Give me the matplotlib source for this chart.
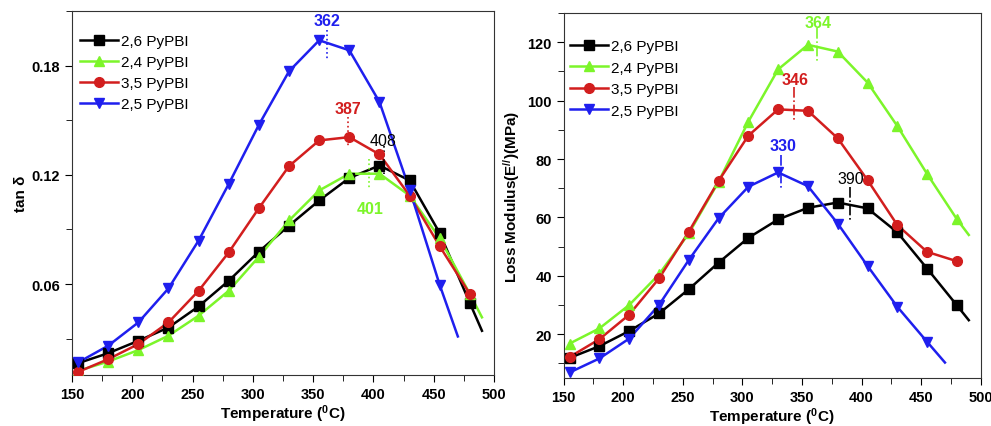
import numpy as np
import matplotlib
matplotlib.use("Agg")
import matplotlib.pyplot as plt
import matplotlib.ticker as ticker

plt.rcParams['font.family'] = ['Liberation Sans', 'DejaVu Sans']
plt.rcParams['mathtext.fontset'] = 'custom'
plt.rcParams['mathtext.rm'] = 'Liberation Sans:bold'
plt.rcParams['mathtext.it'] = 'Liberation Sans:bold'
plt.rcParams['mathtext.bf'] = 'Liberation Sans:bold'

# temperatures of the measured points (deg C)
temp = [155, 180, 205, 230, 255, 280, 305, 330, 355, 380, 405, 430, 455, 480]
labels = ["2,6 PyPBI", "2,4 PyPBI", "3,5 PyPBI", "2,5 PyPBI"]
colors = ["black", "#7cf52a", "#d21e1e", "#1f1fee"]
markers = ["s", "^", "o", "v"]

# tan delta
tan_26 = [0.0165, 0.022, 0.0288, 0.0361, 0.0477, 0.0618, 0.0778, 0.0921, 0.1059, 0.1183, 0.1251, 0.1169, 0.0879, 0.0495]
tan_24 = [0.0123, 0.0174, 0.0237, 0.0316, 0.0426, 0.0563, 0.075, 0.0949, 0.1114, 0.1206, 0.1206, 0.1086, 0.0851, 0.0545]
tan_35 = [0.0117, 0.0187, 0.027, 0.0389, 0.0563, 0.0774, 0.1017, 0.1248, 0.1389, 0.1407, 0.1312, 0.1086, 0.0807, 0.0545]
tan_25 = [0.0169, 0.0261, 0.0389, 0.0576, 0.0839, 0.115, 0.1475, 0.1769, 0.1939, 0.1884, 0.160, 0.1119, 0.0594]
# where each curve ends after its last marker (temp, value)
tan_end = [(490, 0.0343), (490, 0.0417), None, (470, 0.0312)]

# loss modulus (MPa)
loss_26 = [11.9, 15.9, 21.1, 27.1, 35.4, 44.5, 53.0, 59.3, 63.3, 65.1, 63.1, 54.9, 42.5, 29.9]
loss_24 = [16.8, 22.0, 30.0, 40.5, 54.5, 72.2, 92.8, 110.7, 119.1, 116.8, 106.2, 91.3, 74.9, 59.4]
loss_35 = [12.2, 18.3, 26.7, 39.1, 55.1, 72.5, 88.0, 97.0, 96.5, 87.1, 72.8, 57.4, 48.2, 45.0]
loss_25 = [6.9, 11.7, 18.5, 30.0, 45.4, 59.7, 70.5, 75.4, 70.7, 57.9, 43.4, 29.4, 17.4]
loss_end = [(490, 24.8), (490, 54.0), None, (470, 10.3)]

# peak labels: text, colour index, text position, marker line (x, y0, y1)
tan_peaks = [("362", 3, 361.5, 0.2046, 361.5, 0.1993, 0.1837),
             ("387", 2, 379, 0.1562, 379, 0.152, 0.136),
             ("408", 0, 408, 0.1387, 408.7, 0.1359, 0.1203),
             ("401", 1, 397.7, 0.1017, 396, 0.1285, 0.112)]
loss_peaks = [("364", 1, 363.8, 126.9, 362.4, 124.8, 112.8),
              ("346", 2, 344.2, 107.3, 343.3, 104.8, 92.8),
              ("330", 3, 333.8, 84.5, 332.4, 81.4, 69.7),
              ("390", 0, 390.9, 73.4, 390.3, 70.5, 59.1)]


def draw_panel(ax, series, ends, peaks, ls, leg_xy, leg_sp):
    for i, ys in enumerate(series):
        xs = temp[:len(ys)]
        lx, ly = list(xs), list(ys)
        if ends[i] is not None:
            lx.append(ends[i][0])
            ly.append(ends[i][1])
        ax.plot(lx, ly, color=colors[i], lw=1.8, zorder=2)
        ax.plot(xs, ys, color=colors[i], lw=0, marker=markers[i], ms=7, zorder=3)
        # legend proxy
        ax.plot([], [], color=colors[i], lw=1.8, marker=markers[i], ms=7, label=labels[i])
    for txt, ci, tx, ty, lxp, y0, y1 in peaks:
        w = 'normal' if ci == 0 else 'bold'
        ax.text(tx, ty, txt, color=colors[ci], fontsize=11.5, fontweight=w, ha='center', va='center')
        ax.plot([lxp, lxp], [y0, y1], color=colors[ci], lw=1.2, ls=ls)
    ax.set_xlim(150, 500)
    ax.xaxis.set_major_locator(ticker.MultipleLocator(50))
    ax.xaxis.set_minor_locator(ticker.MultipleLocator(25))
    ax.tick_params(which='both', direction='out', top=False, right=False, labelsize=10.5)
    ax.tick_params(which='major', length=5)
    ax.tick_params(which='minor', length=4)
    for lab in ax.get_xticklabels() + ax.get_yticklabels():
        lab.set_fontweight('bold')
    for s in ax.spines.values():
        s.set_color('#333333')
    ax.set_xlabel('Temperature ($^{0}$C)', fontsize=11, fontweight='bold', labelpad=1)
    ax.legend(loc='upper left', bbox_to_anchor=leg_xy, frameon=False, handlelength=2.5,
              handletextpad=0.2, labelspacing=leg_sp, borderpad=0, borderaxespad=0,
              prop={'size': 11})


fig = plt.figure(figsize=(9.91, 4.27), dpi=100)
ax1 = fig.add_axes([0.0727, 0.1194, 0.4258, 0.8525])
ax2 = fig.add_axes([0.5688, 0.1124, 0.4208, 0.8548])

draw_panel(ax1, [tan_26, tan_24, tan_35, tan_25], tan_end, tan_peaks, ':', (0.019, 0.936), 0.45)
ax1.set_ylim(0.01, 0.21)
ax1.yaxis.set_major_locator(ticker.FixedLocator([0.06, 0.12, 0.18]))
ax1.yaxis.set_minor_locator(ticker.MultipleLocator(0.03))
ax1.yaxis.set_major_formatter(ticker.FormatStrFormatter('%.2f'))
for lab in ax1.get_yticklabels():
    lab.set_fontweight('bold')
ax1.set_ylabel('tan δ', fontsize=11, fontweight='bold')
ax1.yaxis.set_label_coords(-0.105, 0.5)

draw_panel(ax2, [loss_26, loss_24, loss_35, loss_25], loss_end, loss_peaks, '-.', (0.015, 0.929), 0.5)
ax2.set_ylim(5, 130)
ax2.yaxis.set_major_locator(ticker.MultipleLocator(20))
ax2.yaxis.set_minor_locator(ticker.MultipleLocator(10))
for lab in ax2.get_yticklabels():
    lab.set_fontweight('bold')
ax2.set_ylabel('Loss Modulus(E$^{//}$)(MPa)', fontsize=11, fontweight='bold')
ax2.yaxis.set_label_coords(-0.1, 0.5)

fig.savefig('out.png', dpi=100)
